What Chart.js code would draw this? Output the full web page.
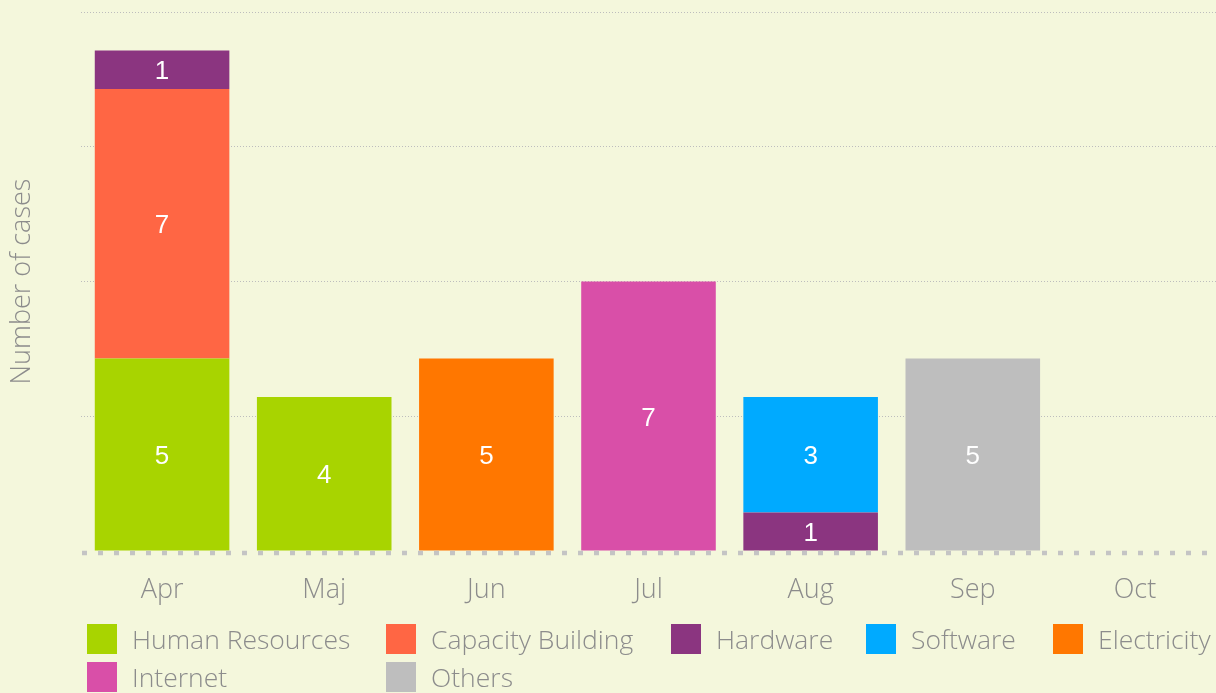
<!DOCTYPE html>
<html><head><meta charset="utf-8">
<script src="https://cdn.jsdelivr.net/npm/chart.js@4.4.0/dist/chart.umd.min.js"></script>
<style>
html,body{margin:0;padding:0;background:#F4F7DC;}
#wrap{position:relative;width:1216px;height:693px;overflow:hidden;background:#F4F7DC;}
#c{position:absolute;left:0;top:0;}
#legend{position:absolute;left:87px;top:624px;display:grid;grid-template-columns:299px 285px 195px 187px auto;row-gap:8px;font-family:'Open Sans';font-weight:300;font-size:26.5px;color:#8c8c8c;}
.item{display:flex;align-items:center;height:30px;white-space:nowrap;}
.box{width:30px;height:30px;margin-right:15px;flex:none;}
</style></head>
<body>
<div id="wrap"><canvas id="c" width="1216" height="693"></canvas><div id="legend"></div></div>
<script>
const categories = ['Apr','Maj','Jun','Jul','Aug','Sep','Oct'];
const seriesNames = ['Human Resources','Capacity Building','Hardware','Software','Electricity','Internet','Others'];
const humanResources   = [5,4,0,0,0,0,0];
const capacityBuilding = [7,0,0,0,0,0,0];
const hardware         = [1,0,0,0,1,0,0];
const software         = [0,0,0,0,3,0,0];
const electricity      = [0,0,5,0,0,0,0];
const internet         = [0,0,0,7,0,0,0];
const others           = [0,0,0,0,0,5,0];
const seriesColors = ['#A8D400','#FF6644','#8B3580','#00AAFF','#FF7700','#D94FA8','#BEBEBE'];
const yMax = 14, yStep = 3.5;

const allSeries = [humanResources,capacityBuilding,hardware,software,electricity,internet,others];
const datasets = allSeries.map((d,i)=>({label:seriesNames[i],data:d,backgroundColor:seriesColors[i],borderWidth:0,barPercentage:0.83,categoryPercentage:1}));

const labelPlugin = {
  id:'labels',
  afterDatasetsDraw(chart){
    const ctx = chart.ctx;
    ctx.save();
    ctx.font = '26px "Liberation Sans", Arial, sans-serif';
    ctx.fillStyle = '#ffffff';
    ctx.textAlign = 'center';
    ctx.textBaseline = 'middle';
    chart.data.datasets.forEach((ds,i)=>{
      const meta = chart.getDatasetMeta(i);
      meta.data.forEach((el,j)=>{
        const v = ds.data[j];
        if(!v) return;
        const p = el.getCenterPoint();
        ctx.fillText(String(v), p.x, p.y+2.5);
      });
    });
    ctx.restore();
  }
};
const baselinePlugin = {
  id:'baseline',
  afterDatasetsDraw(chart){
    const ctx = chart.ctx, a = chart.chartArea;
    const y = chart.scales.y.getPixelForValue(0) + 2;
    ctx.save();
    ctx.strokeStyle = '#C4C4C4';
    ctx.lineWidth = 4.5;
    ctx.setLineDash([5,11]);
    ctx.beginPath();
    ctx.moveTo(a.left+1, y);
    ctx.lineTo(a.right, y);
    ctx.stroke();
    ctx.restore();
  }
};

const chart = new Chart(document.getElementById('c'),{
  type:'bar',
  data:{labels:categories,datasets},
  options:{
    responsive:false,animation:false,
    layout:{padding:{top:12,bottom:72,left:0,right:0}},
    plugins:{legend:{display:false},tooltip:{enabled:false}},
    scales:{
      x:{stacked:true,grid:{display:false},border:{display:false},
         ticks:{color:'#8c8c8c',font:{family:'Open Sans',weight:300,size:27},padding:15},
         afterFit(s){s.height=70;}},
      y:{stacked:true,min:0,max:yMax,
         ticks:{display:false,stepSize:yStep},
         grid:{drawTicks:false,lineWidth:1,color:(c)=>c.tick && c.tick.value===0?'rgba(0,0,0,0)':'#BDBDBD'},
         border:{display:false,dash:[1,2]},
         title:{display:true,text:'Number of cases',color:'#8c8c8c',font:{family:'Open Sans',weight:300,size:27},padding:{top:6,bottom:0}},
         afterFit(s){s.width=81;}}
    }
  },
  plugins:[labelPlugin,baselinePlugin]
});

const legend = document.getElementById('legend');
chart.data.datasets.forEach(ds=>{
  const it = document.createElement('div'); it.className='item';
  const b = document.createElement('span'); b.className='box'; b.style.background=ds.backgroundColor;
  const t = document.createElement('span'); t.textContent=ds.label;
  it.appendChild(b); it.appendChild(t); legend.appendChild(it);
});
</script>
</body></html>
